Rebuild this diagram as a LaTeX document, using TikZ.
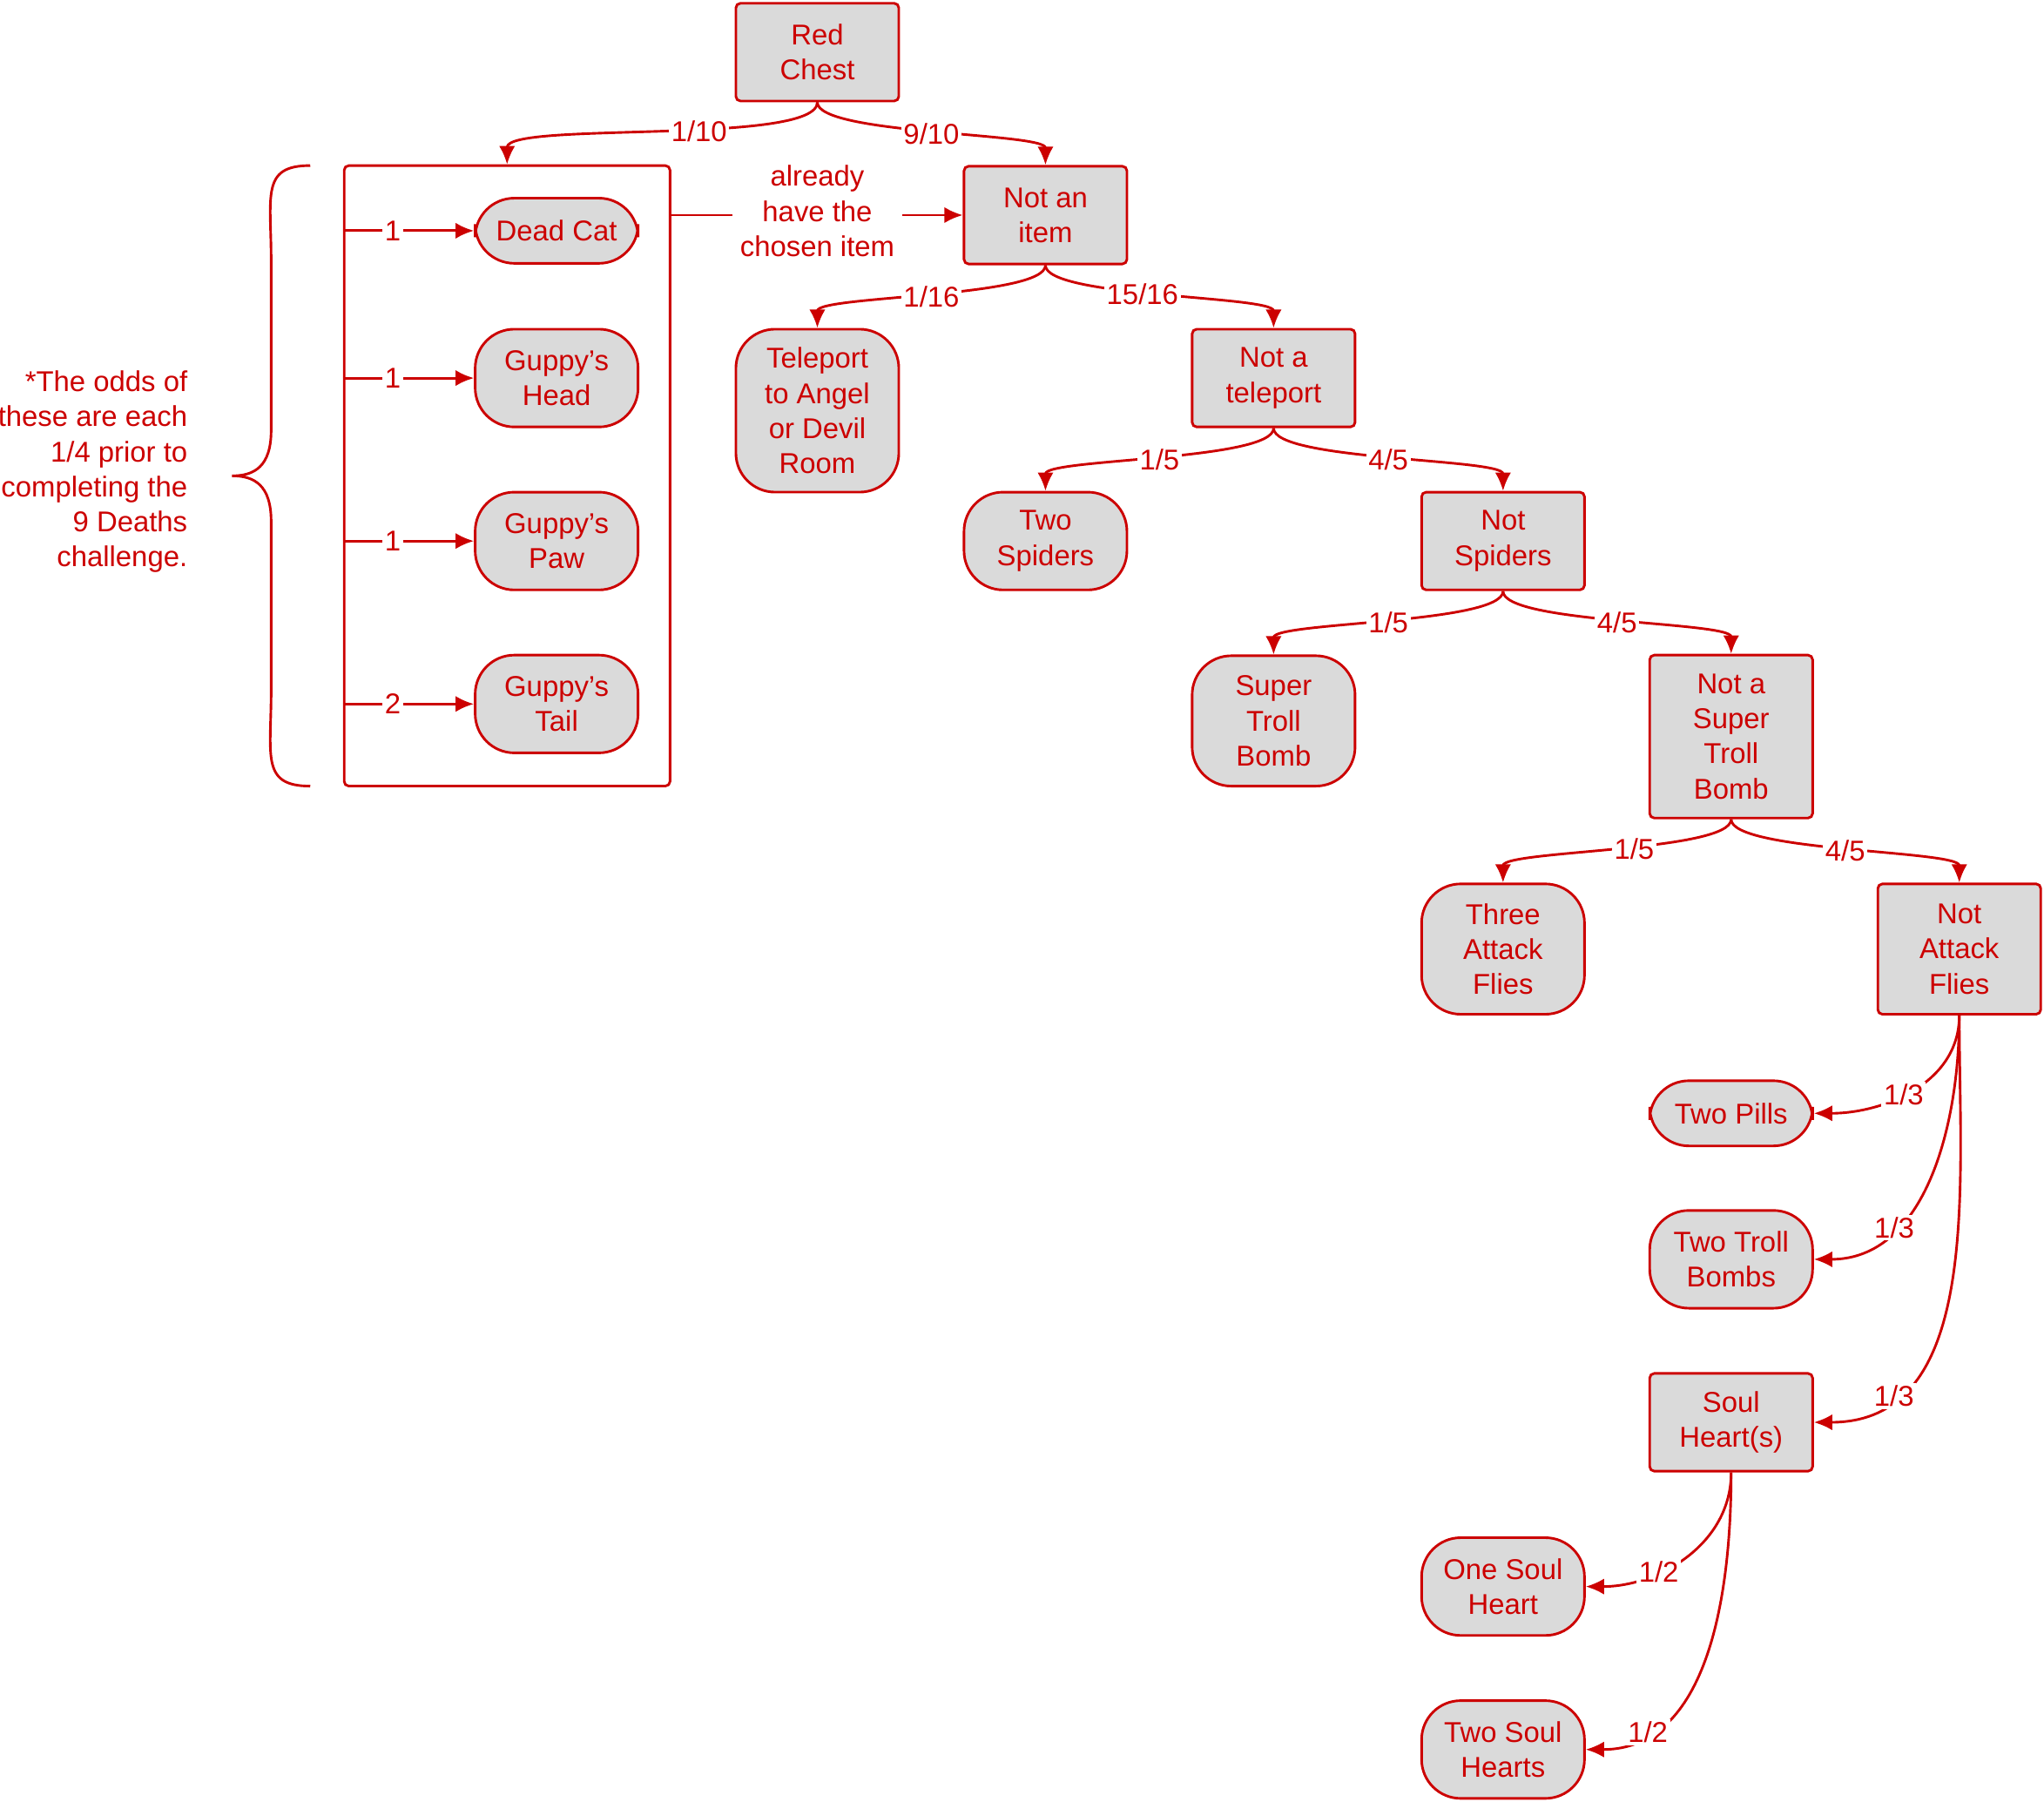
\documentclass[tikz,border=0pt]{standalone}
\usepackage{fontspec}
\setmainfont{Liberation Sans}
\usetikzlibrary{arrows.meta}
\definecolor{rd}{HTML}{CC0000}
\definecolor{gf}{HTML}{DADADA}
\begin{document}
\begin{tikzpicture}[x=0.02cm,y=-0.02cm,
  every node/.style={font=\fontsize{12.5}{15.3}\selectfont, text=rd, align=center},
  base/.style={draw=rd, fill=gf, line width=1.1pt, minimum width=2.5cm, inner sep=0pt},
  sq/.style={base, rounded corners=2pt},
  rnd/.style={base, rounded corners=0.6cm},
  con/.style={draw=rd, line width=1.1pt, -{Latex[length=8pt,width=7pt]}},
  lab/.style={fill=white, inner sep=1pt}]
\useasboundingbox (0,0) rectangle (1568,1382);
\node[sq, minimum height=1.5cm] (rc) at (627,40) {Red\\Chest};
\node[sq, minimum height=1.5cm] (nai) at (802,165) {Not an\\item};
\node[rnd, minimum height=2.5cm] (tp) at (627,315) {Teleport\\to Angel\\or Devil\\Room};
\node[sq, minimum height=1.5cm] (nat) at (977,290) {Not a\\teleport};
\node[rnd, minimum height=1.5cm] (ts) at (802,415) {Two\\Spiders};
\node[sq, minimum height=1.5cm] (ns) at (1153,415) {Not\\Spiders};
\node[rnd, minimum height=2cm] (stb) at (977,553) {Super\\Troll\\Bomb};
\node[sq, minimum height=2.5cm] (nstb) at (1328,565) {Not a\\Super\\Troll\\Bomb};
\node[rnd, minimum height=2cm] (taf) at (1153,728) {Three\\Attack\\Flies};
\node[sq, minimum height=2cm] (naf) at (1503,728) {Not\\Attack\\Flies};
\node[rnd, minimum height=1cm] (tpl) at (1328,854) {Two Pills};
\node[rnd, minimum height=1.5cm] (ttb) at (1328,966) {Two Troll\\Bombs};
\node[sq, minimum height=1.5cm] (sh) at (1328,1091) {Soul\\Heart(s)};
\node[rnd, minimum height=1.5cm] (osh) at (1153,1217) {One Soul\\Heart};
\node[rnd, minimum height=1.5cm] (tsh) at (1153,1342) {Two Soul\\Hearts};
\node[rnd, minimum height=1cm] (dc) at (427,177) {Dead Cat};
\node[rnd, minimum height=1.5cm] (gh) at (427,290) {Guppy's\\Head};
\node[rnd, minimum height=1.5cm] (gp) at (427,415) {Guppy's\\Paw};
\node[rnd, minimum height=1.5cm] (gt) at (427,540) {Guppy's\\Tail};
\node[draw=rd, line width=1.1pt, rounded corners=2pt, minimum width=5cm, minimum height=9.52cm, inner sep=0pt] (grp) at (389,365) {};
\draw[rd, line width=1.1pt] (238,127) .. controls (200,127) and (208,150) .. (208,200) -- (208,330) .. controls (208,358) and (195,365) .. (178,365) .. controls (195,365) and (208,372) .. (208,400) -- (208,530) .. controls (208,580) and (200,603) .. (238,603);
\node[align=right, anchor=east] (note) at (150,362) {*The odds of\\these are each\\1/4 prior to\\completing the\\9 Deaths\\challenge.};
\node (ahc) at (627,162) {already\\have the\\chosen item};
\draw[rd, line width=1.1pt] (grp.east |- nai) -- (ahc.west |- nai);
\draw[con] (ahc.east |- nai) -- (nai.west);
\foreach \n/\l in {dc/1/5*, gh/1/5*, gp/1/5*, gt/2/5*}
  \draw[con] (grp.west |- \n) -- node[lab, pos=0.38] {\l} (\n.west);
\draw[con] (rc.south) to[out=-90,in=90,looseness=0.35] node[lab, pos=0.42] {1/10} (grp.north);
\draw[con] (rc.south) to[out=-90,in=90,looseness=0.35] node[lab, pos=0.5] {9/10} (nai.north);
\draw[con] (nai.south) to[out=-90,in=90,looseness=0.35] node[lab, pos=0.5] {1/16} (tp.north);
\draw[con] (nai.south) to[out=-90,in=90,looseness=0.35] node[lab, pos=0.45] {15/16} (nat.north);
\draw[con] (nat.south) to[out=-90,in=90,looseness=0.35] node[lab, pos=0.5] {1/5} (ts.north);
\draw[con] (nat.south) to[out=-90,in=90,looseness=0.35] node[lab, pos=0.5] {4/5} (ns.north);
\draw[con] (ns.south) to[out=-90,in=90,looseness=0.35] node[lab, pos=0.5] {1/5} (stb.north);
\draw[con] (ns.south) to[out=-90,in=90,looseness=0.35] node[lab, pos=0.5] {4/5} (nstb.north);
\draw[con] (nstb.south) to[out=-90,in=90,looseness=0.35] node[lab, pos=0.45] {1/5} (taf.north);
\draw[con] (nstb.south) to[out=-90,in=90,looseness=0.35] node[lab, pos=0.5] {4/5} (naf.north);
\draw[con] (naf.south) to[out=-90,in=0] node[lab, pos=0.55] {1/3} (tpl.east);
\draw[con] (naf.south) to[out=-90,in=0] node[lab, pos=0.7] {1/3} (ttb.east);
\draw[con] (naf.south) to[out=-90,in=0] node[lab, pos=0.8] {1/3} (sh.east);
\draw[con] (sh.south) to[out=-90,in=0] node[lab, pos=0.65] {1/2} (osh.east);
\draw[con] (sh.south) to[out=-90,in=0] node[lab, pos=0.8] {1/2} (tsh.east);
\end{tikzpicture}
\end{document}
